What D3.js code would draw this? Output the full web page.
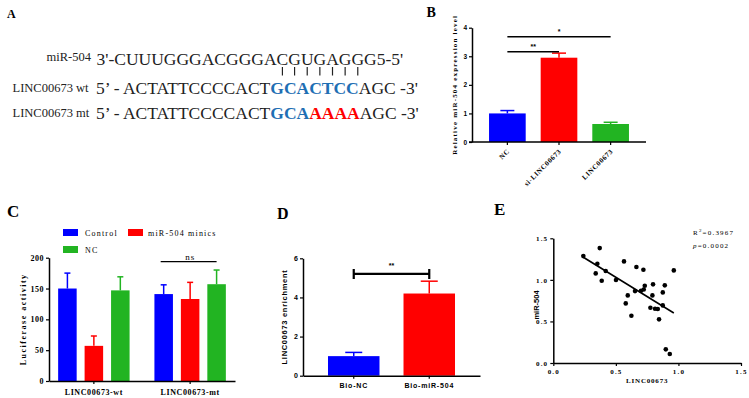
<!DOCTYPE html>
<html>
<head>
<meta charset="utf-8">
<script src="https://cdn.jsdelivr.net/npm/d3@7"></script>
<style>
body { margin: 0; background: #fff; }
svg { display: block; }
</style>
</head>
<body>
<svg id="fig" width="749" height="398"></svg>
<script>
// ---------- data ----------
// A: sequences
const mirLabel = 'miR-504';
const mirSeq = "3'-CUUUGGGACGGGACGUGAGGG5-5'";
const seedIdx = [16, 17, 18, 19, 20, 21, 22];   // paired bases in mirSeq
const wtParts = [["5’ - ACTATTCCCCACT", 'plain'], ['GCACTCC', 'blue'], ["AGC -3'", 'plain']];
const mtParts = [["5’ - ACTATTCCCCACT", 'plain'], ['GCA', 'blue'], ['AAAA', 'red'], ["AGC -3'", 'plain']];

// B: relative miR-504 expression
const bCategories = ['NC', 'si-LINC00673', 'LINC00673'];
const bValues = [1.0, 2.95, 0.63];
const bErrors = [0.1, 0.16, 0.06];
const bTicks = [0, 1, 2, 3, 4];

// C: luciferase activity
const cGroups = ['LINC00673-wt', 'LINC00673-mt'];
const cSeries = ['Control', 'miR-504 minics', 'NC'];
const cControl = [150, 141];
const cMimics = [57, 133];
const cNC = [147, 157];
const cControlErr = [25, 15];
const cMimicsErr = [16, 27];
const cNCErr = [22, 23];
const cTicks = [0, 50, 100, 150, 200];

// D: LINC00673 enrichment
const dCategories = ['Bio-NC', 'Bio-miR-504'];
const dValues = [1.0, 4.2];
const dErrors = [0.19, 0.63];
const dTicks = [0, 2, 4, 6];

// E: correlation
const eLinc = [0.24, 0.371, 0.352, 0.339, 0.419, 0.387, 0.501, 0.565, 0.664, 0.72, 0.963, 0.731, 0.797, 0.891, 0.653,
               0.701, 0.723, 0.792, 0.875, 0.595, 0.579, 0.776, 0.813, 0.835, 0.875, 0.845, 0.624, 0.899, 0.931];
const eMir = [1.286, 1.382, 1.194, 1.078, 1.106, 0.99, 0.998, 1.222, 1.154, 1.122, 1.114, 0.929, 0.946, 0.934, 0.865,
              0.869, 0.885, 0.813, 0.849, 0.813, 0.717, 0.665, 0.653, 0.649, 0.693, 0.525, 0.569, 0.164, 0.108];
const eTicks = [0, 0.5, 1.0, 1.5];

const BLUE = '#0000ff', RED = '#ff0000', GREEN = '#22b422', SEQBLUE = '#1f6fb4';
const SERIF = '"Liberation Serif", "Times New Roman", serif';
const SANS = '"Liberation Sans", Arial, sans-serif';

const svg = d3.select('#fig');

function styleAxis(g, font, size, spacing) {
    g.attr('font-family', font).attr('font-size', size);
    g.select('.domain').attr('stroke-width', 1.5);
    g.selectAll('.tick line').attr('stroke-width', 1.2);
    g.selectAll('.tick text')
        .attr('font-weight', 'bold')
        .attr('letter-spacing', spacing)
        .attr('fill', '#000');
}

function panelLabel(txt, x, y, size) {
    svg.append('text').attr('x', x).attr('y', y)
        .attr('font-family', SERIF).attr('font-weight', 'bold').attr('font-size', size)
        .text(txt);
}

function errorBars(g, rows, xf, w, yscale, capW) {
    g.selectAll(null).data(rows).enter().append('line')
        .attr('x1', d => xf(d) + w / 2).attr('x2', d => xf(d) + w / 2)
        .attr('y1', d => yscale(d.value)).attr('y2', d => yscale(d.value + d.err))
        .attr('stroke', d => d.color).attr('stroke-width', 1.5);
    g.selectAll(null).data(rows).enter().append('line')
        .attr('x1', d => xf(d) + w / 2 - capW / 2).attr('x2', d => xf(d) + w / 2 + capW / 2)
        .attr('y1', d => yscale(d.value + d.err)).attr('y2', d => yscale(d.value + d.err))
        .attr('stroke', d => d.color).attr('stroke-width', 1.5);
}

// ---------- A ----------
panelLabel('A', 7, 17.5, 12);
const colorOf = { plain: '#222', blue: SEQBLUE, red: RED };

svg.append('text').attr('x', 46.5).attr('y', 61)
    .attr('font-family', SERIF).attr('font-size', 12.5).attr('fill', '#222').text(mirLabel);
const mirText = svg.append('text').attr('x', 96.5).attr('y', 65)
    .attr('font-family', SERIF).attr('font-size', 17.5).attr('fill', '#222').text(mirSeq);

// pairing bars under the seed bases
const mirNode = mirText.node();
svg.selectAll('.pair').data(seedIdx).enter().append('line')
    .attr('class', 'pair')
    .attr('x1', i => (mirNode.getStartPositionOfChar(i).x + mirNode.getEndPositionOfChar(i).x) / 2)
    .attr('x2', i => (mirNode.getStartPositionOfChar(i).x + mirNode.getEndPositionOfChar(i).x) / 2)
    .attr('y1', 67).attr('y2', 75.5)
    .attr('stroke', '#222').attr('stroke-width', 1.2);

[['LINC00673 wt', wtParts, 91.5, 94], ['LINC00673 mt', mtParts, 116.5, 119]].forEach(r => {
    svg.append('text').attr('x', 12.5).attr('y', r[2])
        .attr('font-family', SERIF).attr('font-size', 12.5).attr('fill', '#222').text(r[0]);
    const t = svg.append('text').attr('x', 96).attr('y', r[3])
        .attr('font-family', SERIF).attr('font-size', 17.5);
    r[1].forEach(p => {
        t.append('tspan').attr('fill', colorOf[p[1]])
            .attr('font-weight', p[1] === 'plain' ? 'normal' : 'bold')
            .text(p[0]);
    });
});

// ---------- B ----------
panelLabel('B', 426.5, 16.5, 14);
const bx = d3.scaleBand().domain(bCategories).range([472, 646]).paddingInner(0.29).paddingOuter(0.33);
const by = d3.scaleLinear().domain([0, 4]).range([142, 27.7]);
const bColors = [BLUE, RED, GREEN];
const bRows = bCategories.map((c, i) => ({ cat: c, value: bValues[i], err: bErrors[i], color: bColors[i] }));
const gB = svg.append('g');

gB.selectAll('rect').data(bRows).enter().append('rect')
    .attr('x', d => bx(d.cat)).attr('width', bx.bandwidth())
    .attr('y', d => by(d.value)).attr('height', d => by(0) - by(d.value))
    .attr('fill', d => d.color);
errorBars(gB, bRows, d => bx(d.cat), bx.bandwidth(), by, 14);

const bYaxis = gB.append('g').attr('transform', 'translate(472,0)')
    .call(d3.axisLeft(by).tickValues(bTicks).tickFormat(d3.format('d')).tickSize(3).tickPadding(2).tickSizeOuter(0));
styleAxis(bYaxis, SANS, 6.5, 0);
const bXaxis = gB.append('g').attr('transform', 'translate(0,142)')
    .call(d3.axisBottom(bx).tickSize(3).tickSizeOuter(0));
styleAxis(bXaxis, SERIF, 7, 0.6);
bXaxis.select('.domain').attr('d', 'M469,0H646');
bXaxis.selectAll('.tick text')
    .attr('y', 0).attr('dy', '0.35em')
    .attr('text-anchor', 'end')
    .attr('transform', 'translate(1,8) rotate(-45)');

gB.append('text')
    .attr('transform', `translate(457,${(by(0) + by(4)) / 2}) rotate(-90)`)
    .attr('text-anchor', 'middle')
    .attr('font-family', SERIF).attr('font-size', 7).attr('font-weight', 'bold').attr('letter-spacing', 1.2)
    .text('Relative miR-504 expression level');

// significance
const bSig = [{ from: 'NC', to: 'LINC00673', y: 3.68, label: '*' },
              { from: 'NC', to: 'si-LINC00673', y: 3.16, label: '**' }];
bSig.forEach(s => {
    const x1 = bx(s.from) + bx.bandwidth() / 2, x2 = bx(s.to) + bx.bandwidth() / 2;
    gB.append('line').attr('x1', x1).attr('x2', x2).attr('y1', by(s.y)).attr('y2', by(s.y))
        .attr('stroke', '#000').attr('stroke-width', 1.5);
    gB.append('text').attr('x', (x1 + x2) / 2).attr('y', by(s.y) - 3)
        .attr('text-anchor', 'middle').attr('font-family', SANS).attr('font-size', 7).attr('font-weight', 'bold')
        .text(s.label);
});

// ---------- C ----------
panelLabel('C', 7, 217, 17);
const cx0 = d3.scaleBand().domain(cGroups).range([49, 235]).paddingInner(0.258).paddingOuter(0.095);
const cx1 = d3.scaleBand().domain(cSeries).range([0, cx0.bandwidth()]).paddingInner(0.3);
const cy = d3.scaleLinear().domain([0, 200]).range([381, 257.7]);
const cValues = [cControl, cMimics, cNC];
const cErrs = [cControlErr, cMimicsErr, cNCErr];
const cColors = [BLUE, RED, GREEN];
const cRows = [];
cGroups.forEach((g, i) => cSeries.forEach((s, j) =>
    cRows.push({ group: g, series: s, value: cValues[j][i], err: cErrs[j][i], color: cColors[j] })));
const gC = svg.append('g');

gC.selectAll('rect').data(cRows).enter().append('rect')
    .attr('x', d => cx0(d.group) + cx1(d.series)).attr('width', cx1.bandwidth())
    .attr('y', d => cy(d.value)).attr('height', d => cy(0) - cy(d.value))
    .attr('fill', d => d.color);
errorBars(gC, cRows, d => cx0(d.group) + cx1(d.series), cx1.bandwidth(), cy, 6);

const cYaxis = gC.append('g').attr('transform', 'translate(49,0)')
    .call(d3.axisLeft(cy).tickValues(cTicks).tickFormat(d3.format('d')).tickSize(3).tickPadding(2).tickSizeOuter(0));
styleAxis(cYaxis, SERIF, 8, 0.5);
const cXaxis = gC.append('g').attr('transform', 'translate(0,381)')
    .call(d3.axisBottom(cx0).tickSize(3).tickPadding(5).tickSizeOuter(0));
styleAxis(cXaxis, SERIF, 8, 0.6);

gC.append('text')
    .attr('transform', `translate(26,${(cy(0) + cy(200)) / 2}) rotate(-90)`)
    .attr('text-anchor', 'middle')
    .attr('font-family', SERIF).attr('font-size', 8).attr('font-weight', 'bold').attr('letter-spacing', 1.5)
    .text('Luciferase activity');

// legend
const cLeg = gC.selectAll('.leg').data(cSeries).enter().append('g')
    .attr('class', 'leg')
    .attr('transform', (d, j) => `translate(${[63, 128][j % 2]},${[229, 246][Math.floor(j / 2)]})`);
cLeg.append('rect').attr('width', 15).attr('height', 7).attr('fill', (d, j) => cColors[j]);
cLeg.append('text').attr('x', (d, j) => j % 2 ? 20 : 22).attr('y', 7)
    .attr('font-family', SERIF).attr('font-size', 8).attr('letter-spacing', 1.2)
    .text(d => d);

// ns bracket over mt group
const nsX1 = cx0('LINC00673-mt') + cx1('Control') + cx1.bandwidth() / 2;
const nsX2 = cx0('LINC00673-mt') + cx1('NC') + cx1.bandwidth() / 2;
gC.append('line').attr('x1', nsX1 - 3).attr('x2', nsX2).attr('y1', cy(193.5)).attr('y2', cy(193.5))
    .attr('stroke', '#000').attr('stroke-width', 1.3);
gC.append('text').attr('x', (nsX1 + nsX2) / 2).attr('y', cy(193.5) - 2)
    .attr('text-anchor', 'middle').attr('font-family', SERIF).attr('font-size', 9).attr('letter-spacing', 1)
    .text('ns');

// ---------- D ----------
panelLabel('D', 277, 218.5, 16);
const dx = d3.scaleBand().domain(dCategories).range([303, 480]).paddingInner(0.318).paddingOuter(0.331);
const dy = d3.scaleLinear().domain([0, 6]).range([375.7, 258.3]);
const dRows = dCategories.map((c, i) => ({ cat: c, value: dValues[i], err: dErrors[i], color: [BLUE, RED][i] }));
const gD = svg.append('g');

gD.selectAll('rect').data(dRows).enter().append('rect')
    .attr('x', d => dx(d.cat)).attr('width', dx.bandwidth())
    .attr('y', d => dy(d.value)).attr('height', d => dy(0) - dy(d.value))
    .attr('fill', d => d.color);
errorBars(gD, dRows, d => dx(d.cat), dx.bandwidth(), dy, 17);

const dYaxis = gD.append('g').attr('transform', 'translate(303,0)')
    .call(d3.axisLeft(dy).tickValues(dTicks).tickFormat(d3.format('d')).tickSize(3).tickPadding(2).tickSizeOuter(0));
styleAxis(dYaxis, SANS, 7, 0);
const dXaxis = gD.append('g').attr('transform', 'translate(0,375.7)')
    .call(d3.axisBottom(dx).tickSize(3).tickPadding(4).tickSizeOuter(0));
styleAxis(dXaxis, SANS, 7, 0.8);

gD.append('text')
    .attr('transform', `translate(287,${(dy(0) + dy(6)) / 2}) rotate(-90)`)
    .attr('text-anchor', 'middle')
    .attr('font-family', SANS).attr('font-size', 7.5).attr('font-weight', 'bold').attr('letter-spacing', 0.7)
    .text('LINC00673 enrichment');

// ** bracket
const dX1 = dx('Bio-NC') + dx.bandwidth() / 2, dX2 = dx('Bio-miR-504') + dx.bandwidth() / 2;
const dSigY = dy(5.2);
gD.append('path')
    .attr('d', `M${dX1},${dSigY - 5}V${dSigY + 5}M${dX1},${dSigY}H${dX2}M${dX2},${dSigY - 5}V${dSigY + 5}`)
    .attr('fill', 'none').attr('stroke', '#000').attr('stroke-width', 2.2);
gD.append('text').attr('x', (dX1 + dX2) / 2).attr('y', dSigY - 6)
    .attr('text-anchor', 'middle').attr('font-family', SANS).attr('font-size', 7).attr('font-weight', 'bold')
    .text('**');

// ---------- E ----------
panelLabel('E', 494, 215, 17);
const ex = d3.scaleLinear().domain([0, 1.5]).range([553.3, 741]);
const ey = d3.scaleLinear().domain([0, 1.5]).range([363, 238.3]);
const gE = svg.append('g');

const eXaxis = gE.append('g').attr('transform', 'translate(0,363)')
    .call(d3.axisBottom(ex).tickValues(eTicks).tickFormat(d3.format('.1f')).tickSize(3).tickPadding(3).tickSizeOuter(0));
styleAxis(eXaxis, SERIF, 7, 1.2);
const eYaxis = gE.append('g').attr('transform', 'translate(553.3,0)')
    .call(d3.axisLeft(ey).tickValues(eTicks).tickFormat(d3.format('.1f')).tickSize(3).tickPadding(2).tickSizeOuter(0));
styleAxis(eYaxis, SERIF, 7, 1.2);

// least squares fit
const mx = d3.mean(eLinc), my = d3.mean(eMir);
const slope = d3.sum(eLinc, (x, i) => (x - mx) * (eMir[i] - my)) / d3.sum(eLinc, x => (x - mx) * (x - mx));
const icpt = my - slope * mx;
const [xmin, xmax] = d3.extent(eLinc);
gE.append('line')
    .attr('x1', ex(xmin)).attr('y1', ey(icpt + slope * xmin))
    .attr('x2', ex(xmax)).attr('y2', ey(icpt + slope * xmax))
    .attr('stroke', '#000').attr('stroke-width', 1.6);

gE.selectAll('circle').data(eLinc).enter().append('circle')
    .attr('cx', d => ex(d)).attr('cy', (d, i) => ey(eMir[i]))
    .attr('r', 2.3).attr('fill', '#000');

gE.append('text').attr('x', (ex(0) + ex(1.5)) / 2).attr('y', 383)
    .attr('text-anchor', 'middle').attr('font-family', SERIF).attr('font-size', 7).attr('font-weight', 'bold')
    .attr('letter-spacing', 0.8).text('LINC00673');
gE.append('text')
    .attr('transform', 'translate(539,305) rotate(-90)')
    .attr('text-anchor', 'middle').attr('font-family', SANS).attr('font-size', 7.5).attr('font-weight', 'bold')
    .text('miR-504');

const r2 = gE.append('text').attr('x', 693).attr('y', 235)
    .attr('font-family', SERIF).attr('font-size', 7).attr('letter-spacing', 1.2);
r2.append('tspan').text('R');
r2.append('tspan').attr('font-size', 5).attr('dy', -3).text('2');
r2.append('tspan').attr('dy', 3).text('=0.3967');
const pv = gE.append('text').attr('x', 693).attr('y', 247.5)
    .attr('font-family', SERIF).attr('font-size', 7).attr('letter-spacing', 1.2);
pv.append('tspan').attr('font-style', 'italic').text('p');
pv.append('tspan').text('=0.0002');
</script>
</body>
</html>
